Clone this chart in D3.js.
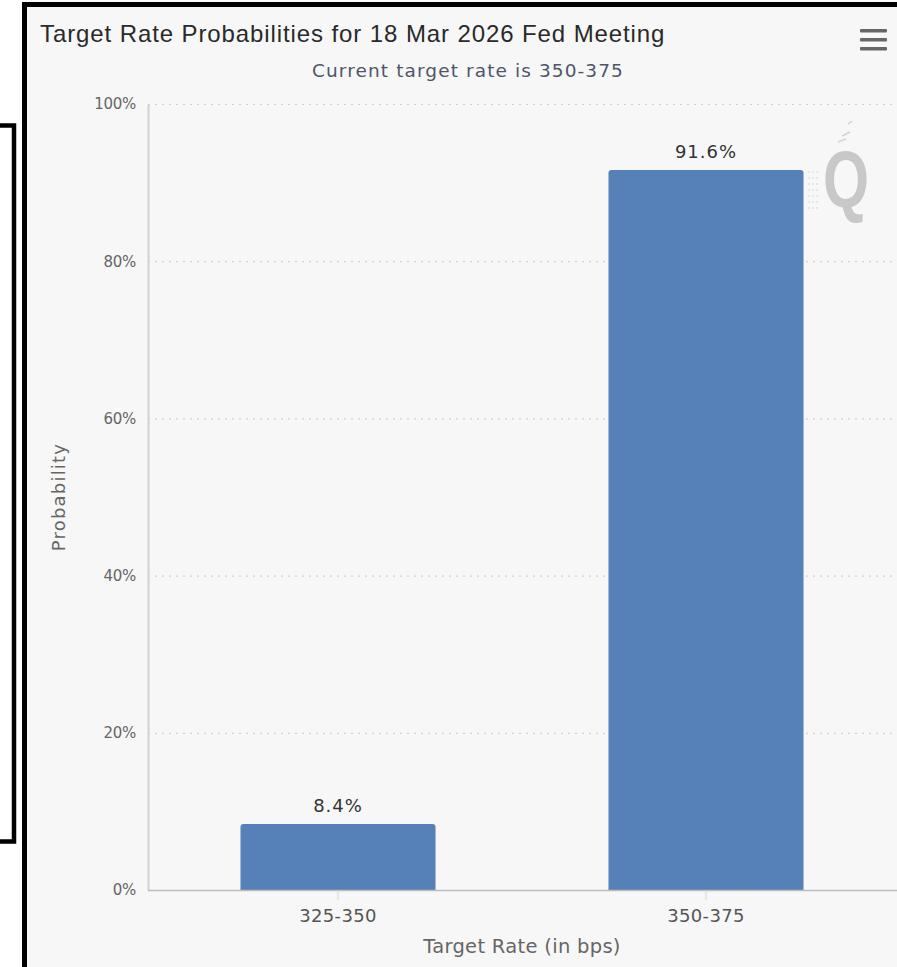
<!DOCTYPE html>
<html>
<head>
<meta charset="utf-8">
<script src="https://cdn.jsdelivr.net/npm/d3@7/dist/d3.min.js"></script>
<style>
  html, body { margin: 0; padding: 0; background: #fff; }
  svg { display: block; }
</style>
</head>
<body>
<div id="chart"></div>
<script>
// data
const categories = ['325-350', '350-375'];
const probabilities = [8.4, 91.6];
const yTicks = [0, 20, 40, 60, 80, 100];
const titleText = 'Target Rate Probabilities for 18 Mar 2026 Fed Meeting';
const subtitleText = 'Current target rate is 350-375';

const W = 897, H = 967;
const plot = { left: 148, right: 897, top: 104, bottom: 890 };

const svg = d3.select('#chart').append('svg')
    .attr('width', W)
    .attr('height', H);

// outer panel with thick black border
svg.append('rect')
    .attr('x', 24.5).attr('y', 4.5)
    .attr('width', 900).attr('height', 1000)
    .attr('fill', '#f7f7f7')
    .attr('stroke', '#000')
    .attr('stroke-width', 5);

// edge of neighbouring box on the left
svg.append('rect')
    .attr('x', -20).attr('y', 125.5)
    .attr('width', 34).attr('height', 716)
    .attr('fill', 'none')
    .attr('stroke', '#000')
    .attr('stroke-width', 4.5);

// scales
const x = d3.scaleBand()
    .domain(categories)
    .range([154, 890])
    .paddingInner(0.47)
    .paddingOuter(0.235);

const y = d3.scaleLinear()
    .domain([0, 100])
    .range([plot.bottom, plot.top]);

// gridlines
const yGrid = d3.axisLeft(y)
    .tickValues(yTicks.filter(d => d > 0))
    .tickSize(-(plot.right - plot.left))
    .tickFormat('');

svg.append('g')
    .attr('transform', `translate(${plot.left},0)`)
    .call(yGrid)
    .call(g => g.select('.domain').remove())
    .call(g => g.selectAll('line')
        .attr('stroke', '#cfcfcf')
        .attr('stroke-width', 1.2)
        .attr('stroke-dasharray', '2,5'));

// y axis
const yAxis = d3.axisLeft(y)
    .tickValues(yTicks)
    .tickSize(0)
    .tickPadding(12)
    .tickFormat(d => d + '%');

svg.append('g')
    .attr('transform', `translate(${plot.left},0)`)
    .call(yAxis)
    .call(g => g.select('.domain')
        .attr('stroke', '#d2d2d2')
        .attr('stroke-width', 2))
    .call(g => g.selectAll('text')
        .attr('fill', '#666')
        .attr('font-family', 'DejaVu Sans')
        .attr('font-size', 15)
        .attr('letter-spacing', -0.3));

// bars with slightly rounded tops
const r = 3;
svg.append('g')
    .selectAll('path')
    .data(probabilities)
    .join('path')
    .attr('fill', '#5681b8')
    .attr('d', (d, i) => {
        const x0 = x(categories[i]), x1 = x0 + x.bandwidth();
        const y0 = y(d), y1 = y(0);
        return `M${x0},${y1}V${y0 + r}Q${x0},${y0} ${x0 + r},${y0}H${x1 - r}Q${x1},${y0} ${x1},${y0 + r}V${y1}Z`;
    });

// x axis
const xAxis = d3.axisBottom(x)
    .tickSize(10)
    .tickPadding(8)
    .tickSizeOuter(0);

svg.append('g')
    .attr('transform', `translate(0,${plot.bottom})`)
    .call(xAxis)
    .call(g => g.select('.domain')
        .attr('d', `M${plot.left},0.5H${plot.right}`)
        .attr('stroke', '#bdbdbd')
        .attr('stroke-width', 1.6))
    .call(g => g.selectAll('.tick line').attr('stroke', '#d6d6d6'))
    .call(g => g.selectAll('text')
        .attr('fill', '#555')
        .attr('font-family', 'DejaVu Sans')
        .attr('font-size', 18)
        .attr('letter-spacing', 0.3)
        .attr('dy', '0.75em'));

// data labels
svg.append('g')
    .selectAll('text')
    .data(probabilities)
    .join('text')
    .attr('x', (d, i) => x(categories[i]) + x.bandwidth() / 2)
    .attr('y', d => y(d) - 12)
    .attr('text-anchor', 'middle')
    .attr('font-family', 'DejaVu Sans')
    .attr('font-size', 18)
    .attr('letter-spacing', 1)
    .attr('fill', '#333')
    .text(d => d.toFixed(1) + '%');

// axis titles
svg.append('text')
    .attr('x', (154 + 890) / 2)
    .attr('y', 953)
    .attr('text-anchor', 'middle')
    .attr('font-family', 'DejaVu Sans')
    .attr('font-size', 19.5)
    .attr('letter-spacing', 0.3)
    .attr('fill', '#666')
    .text('Target Rate (in bps)');

svg.append('text')
    .attr('transform', 'translate(65,497) rotate(-90)')
    .attr('text-anchor', 'middle')
    .attr('font-family', 'DejaVu Sans')
    .attr('font-size', 18)
    .attr('letter-spacing', 1.2)
    .attr('fill', '#666')
    .text('Probability');

// title and subtitle
svg.append('text')
    .attr('x', 40)
    .attr('y', 42)
    .attr('font-family', 'Liberation Sans, Arial, sans-serif')
    .attr('font-size', 24)
    .attr('letter-spacing', 0.9)
    .attr('fill', '#2a2a2a')
    .text(titleText);

svg.append('text')
    .attr('x', 468)
    .attr('y', 77)
    .attr('text-anchor', 'middle')
    .attr('font-family', 'DejaVu Sans')
    .attr('font-size', 18.5)
    .attr('letter-spacing', 1.1)
    .attr('fill', '#4e5669')
    .text(subtitleText);

// hamburger menu
svg.append('g')
    .selectAll('rect')
    .data([29, 38, 47])
    .join('rect')
    .attr('x', 860).attr('y', d => d)
    .attr('width', 27).attr('height', 3.5)
    .attr('rx', 1)
    .attr('fill', '#666');

// watermark "Q"
const wm = svg.append('g').attr('opacity', 0.9);
wm.append('text')
    .attr('transform', 'translate(846,207) scale(0.74,1)')
    .attr('text-anchor', 'middle')
    .attr('font-family', 'Liberation Sans, sans-serif')
    .attr('font-weight', 'bold')
    .attr('font-size', 80)
    .attr('fill', '#c3c3c3')
    .text('Q');
wm.append('g')
    .selectAll('line')
    .data([[842, 136, 850, 132], [838, 142, 846, 139], [848, 124, 852, 121]])
    .join('line')
    .attr('x1', d => d[0]).attr('y1', d => d[1])
    .attr('x2', d => d[2]).attr('y2', d => d[3])
    .attr('stroke', '#d0d0d0')
    .attr('stroke-width', 1.5);
wm.append('g')
    .selectAll('line')
    .data(d3.range(172, 214, 6))
    .join('line')
    .attr('x1', 808).attr('x2', 820)
    .attr('y1', d => d).attr('y2', d => d)
    .attr('stroke', '#d6e4ee')
    .attr('stroke-width', 1.5)
    .attr('stroke-dasharray', '2,2');
</script>
</body>
</html>
